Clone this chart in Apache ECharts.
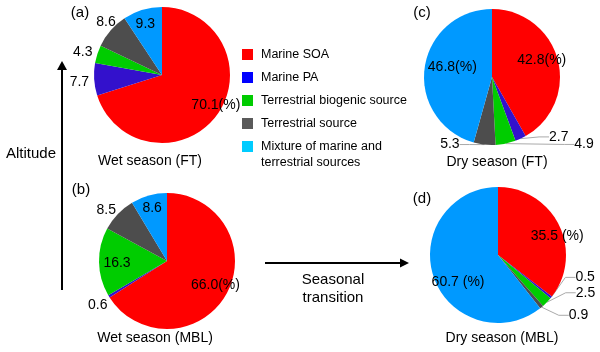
<!DOCTYPE html>
<html>
<head>
<meta charset="utf-8">
<script src="https://cdn.jsdelivr.net/npm/echarts@6/dist/echarts.min.js"></script>
<style>
  html, body { margin: 0; padding: 0; background: #fff; }
  #chart { width: 600px; height: 352px; }
</style>
</head>
<body>
<div id="chart"></div>
<script>
// source categories (legend order = slice order, clockwise from 12 o'clock)
var categories = ['Marine SOA', 'Marine PA', 'Terrestrial biogenic source', 'Terrestrial source', 'Mixture of marine and terrestrial sources'];

// contributions (%) per panel
var wetFT  = [70.1, 7.7, 4.3, 8.6, 9.3];   // (a)
var wetMBL = [66.0, 0.6, 16.3, 8.5, 8.6];  // (b)
var dryFT  = [42.8, 2.7, 4.9, 5.3, 46.8];  // (c)
var dryMBL = [35.5, 0.5, 2.5, 0.9, 60.7];  // (d)

var panelTags = ['(a)', '(b)', '(c)', '(d)'];
var panelTitles = ['Wet season (FT)', 'Wet season (MBL)', 'Dry season (FT)', 'Dry season (MBL)'];

var FONT = '"Liberation Sans", Arial, sans-serif'

var sliceColors  = ['#ff0000', '#3311cc', '#00cc00', '#4d4d4d', '#0099ff']
var legendColors = ['#ff0000', '#0000ff', '#00cc00', '#5a5a5a', '#00ccff']

// label style per slice: in = inside, out = outside w/o line, line = outside with leader line
// suffix appended after the number, [dx, dy] nudges
var panels = [
  { data: wetFT,  center: [162, 75],  place: ['in', 'out', 'out', 'out', 'in'],
    suffix: ['(%)', '', '', '', ''],
    shift: [[24, 8], [4, 2], [4, -1], [13, -6], [-6, -15]] },
  { data: wetMBL, center: [167, 261], place: ['in', 'out', 'in', 'out', 'in'],
    suffix: ['(%)', '', '', '', ''],
    shift: [[16, 6], [7, 7], [-13, 2], [6, -1], [-5, -17]] },
  { data: dryFT,  center: [492, 77],  place: ['in', 'line', 'line', 'line', 'in'],
    suffix: ['(%)', '', '', '', '(%)'],
    shift: [[14, -7], [10, -9], [52, -7], [-9, -8], [-3, -5]] },
  { data: dryMBL, center: [498, 255], place: ['in', 'line', 'line', 'line', 'in'],
    suffix: [' (%)', '', '', '', ' (%)'],
    shift: [[26, -3], [3, -25], [8, -15], [7, 2], [-5, 15]] }
]

function buildPie(p, idx) {
  return {
    name: panelTitles[idx],
    type: 'pie',
    center: p.center,
    radius: 68,
    startAngle: 90,
    clockwise: true,
    avoidLabelOverlap: false,
    silent: true,
    animation: false,
    itemStyle: { borderWidth: 0 },
    label: { fontSize: 14, color: '#000', fontFamily: FONT, overflow: 'none', bleedMargin: 0 },
    labelLine: { length: 8, length2: 10, lineStyle: { color: '#aaaaaa', width: 1 } },
    data: p.data.map(function (v, i) {
      var pl = p.place[i]
      var item = {
        name: categories[i],
        value: v,
        itemStyle: { color: sliceColors[i] },
        label: {
          position: pl == 'in' ? 'inside' : 'outside',
          formatter: function (q) { return q.value.toFixed(1) + p.suffix[i] }
        },
        labelLine: { show: pl == 'line' }
      }
      if (pl == 'out') {
        item.labelLine.length = 4
        item.labelLine.length2 = 0
      }
      return item
    }),
    labelLayout: function (q) {
      var s = p.shift[q.dataIndex]
      if (p.place[q.dataIndex] == 'line') {
        // move the label, the guide line is redrawn to follow it
        return {
          x: q.labelRect.x + s[0],
          y: q.labelRect.y + q.labelRect.height / 2 + s[1],
          align: 'left',
          verticalAlign: 'middle'
        }
      }
      return { dx: s[0], dy: s[1] }
    }
  }
}

var series = panels.map(buildPie)

var tagPos = [[80, 13], [81, 190], [422, 13], [422, 199]]
var titlePos = [[150, 161], [155, 338], [497, 162], [502, 338]]

var graphics = []
panelTags.forEach(function (t, i) {
  graphics.push({ type: 'text', x: tagPos[i][0], y: tagPos[i][1],
    style: { text: t, font: '15px ' + FONT, fill: '#000', textAlign: 'center', textVerticalAlign: 'middle' } })
  graphics.push({ type: 'text', x: titlePos[i][0], y: titlePos[i][1],
    style: { text: panelTitles[i], font: '14px ' + FONT, fill: '#000', textAlign: 'center', textVerticalAlign: 'middle' } })
})

// altitude arrow
graphics.push({ type: 'line', shape: { x1: 62, y1: 68, x2: 62, y2: 290 }, style: { stroke: '#000', lineWidth: 2 } })
graphics.push({ type: 'polygon', shape: { points: [[62, 61], [57, 70], [67, 70]] }, style: { fill: '#000' } })
graphics.push({ type: 'text', x: 31, y: 154,
  style: { text: 'Altitude', font: '15px ' + FONT, fill: '#000', textAlign: 'center', textVerticalAlign: 'middle' } })

// seasonal transition arrow
graphics.push({ type: 'line', shape: { x1: 265, y1: 263, x2: 402, y2: 263 }, style: { stroke: '#000', lineWidth: 2 } })
graphics.push({ type: 'polygon', shape: { points: [[409, 263], [400, 258.5], [400, 267.5]] }, style: { fill: '#000' } })
graphics.push({ type: 'text', x: 333, y: 280,
  style: { text: 'Seasonal', font: '15px ' + FONT, fill: '#000', textAlign: 'center', textVerticalAlign: 'middle' } })
graphics.push({ type: 'text', x: 333, y: 298,
  style: { text: 'transition', font: '15px ' + FONT, fill: '#000', textAlign: 'center', textVerticalAlign: 'middle' } })

// second line of the last legend entry
graphics.push({ type: 'text', x: 261, y: 163,
  style: { text: 'terrestrial sources', font: '12.5px ' + FONT, fill: '#000', textAlign: 'left', textVerticalAlign: 'middle' } })

var option = {
  backgroundColor: '#fff',
  animation: false,
  legend: {
    orient: 'vertical',
    left: 242,
    top: 47,
    padding: 0,
    itemWidth: 11,
    itemHeight: 11,
    itemGap: 8,
    selectedMode: false,
    icon: 'rect',
    textStyle: { fontSize: 12.5, color: '#000', fontFamily: FONT, lineHeight: 15, padding: [0, 0, 0, 3] },
    formatter: function (name) {
      return name == categories[4] ? 'Mixture of marine and' : name
    },
    data: categories.map(function (c, i) {
      return { name: c, itemStyle: { color: legendColors[i] } }
    })
  },
  graphic: graphics,
  series: series
}

var chart = echarts.init(document.getElementById('chart'))
chart.setOption(option)
</script>
</body>
</html>
